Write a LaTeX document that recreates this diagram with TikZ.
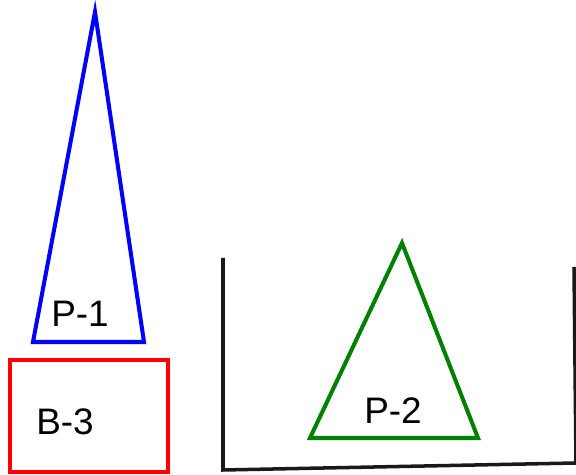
\documentclass[tikz,border=0pt]{standalone}
\usepackage{fontspec}
\setmainfont{Liberation Sans}
\usetikzlibrary{calc,positioning}
\begin{document}
\begin{tikzpicture}[x=0.02cm,y=-0.02cm]
\useasboundingbox (0,0) rectangle (576,475);
\tikzstyle{outline}=[line width=2.3pt, line join=miter]
\tikzstyle{plabel}=[font=\fontsize{21}{24}\selectfont, inner sep=0pt]
% vertices
\coordinate (p1top) at (95,12);
\coordinate (p1left) at (33,342);
\coordinate (p1right) at (144,342);
\coordinate (p2top) at (402,243);
\coordinate (p2left) at (310,438);
\coordinate (p2right) at (478,438);
\coordinate (walltl) at (223,258);
\coordinate (wallbl) at (223,470);
\coordinate (wallbr) at (576,463);
\coordinate (walltr) at (574,267);
% shapes
\draw[outline, blue] (p1top) -- (p1left) -- (p1right) -- cycle;
\draw[outline, red] (10,360) rectangle (168,472);
\draw[outline, black!90, line width=2pt] (walltl) -- (wallbl) -- (wallbr) -- (walltr);
\draw[outline, green!50!black] (p2top) -- (p2left) -- (p2right) -- cycle;
% labels
\node[plabel] (P1) at (80,314) {P-1};
\node[plabel] (B3) at (65,422) {B-3};
\node[plabel] (P2) at (393,411) {P-2};
\end{tikzpicture}
\end{document}
